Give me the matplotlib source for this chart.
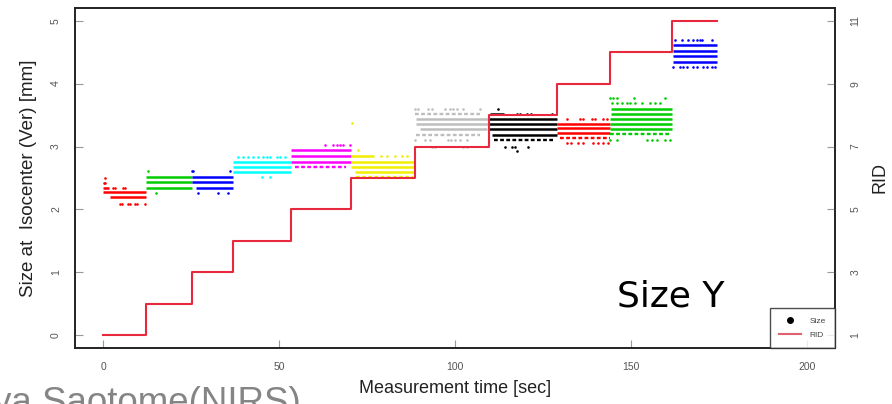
import matplotlib
matplotlib.use('Agg')
import matplotlib.pyplot as plt
from matplotlib.lines import Line2D

#----------------------------------------------------------------------------
# Data
#----------------------------------------------------------------------------

# RID segments: start / end time [sec] and RID value
seg_start = [0.0, 12.2, 25.3, 37.0, 53.4, 70.5, 88.6, 109.7, 129.0, 144.0, 161.7]
seg_end   = [12.2, 25.3, 37.0, 53.4, 70.5, 88.6, 109.7, 129.0, 144.0, 161.7, 174.4]
seg_rid   = [1, 2, 3, 4, 5, 6, 7, 8, 9, 10, 11]

# R default palette, cycled by RID
seg_color = ['red', '#00CD00', 'blue', 'cyan', 'magenta', '#F2EE00',
             '#BEBEBE', 'black', 'red', '#00CD00', 'blue']

# dense rows of size samples: (segment, size [mm], t_from, t_to)
dense_rows = [
    (0, 2.27, 0.0, 12.2), (0, 2.19, 2.0, 12.2), (0, 2.34, 0.0, 1.6),
    (1, 2.51, 12.2, 25.3), (1, 2.43, 12.2, 25.3), (1, 2.34, 12.2, 25.3),
    (2, 2.51, 25.3, 37.0), (2, 2.43, 25.3, 37.0), (2, 2.34, 26.5, 37.0),
    (3, 2.76, 37.0, 53.4), (3, 2.67, 37.0, 53.4), (3, 2.59, 37.0, 53.4),
    (4, 2.94, 53.4, 70.5), (4, 2.85, 53.4, 70.5), (4, 2.76, 53.4, 70.5),
    (5, 2.85, 70.5, 77.0), (5, 2.76, 70.5, 88.6), (5, 2.67, 70.5, 88.6),
    (5, 2.59, 71.5, 88.6),
    (6, 3.44, 89.0, 109.7), (6, 3.36, 89.0, 109.7), (6, 3.28, 90.0, 109.0),
    (7, 3.52, 110.0, 114.0), (7, 3.44, 109.7, 129.0), (7, 3.36, 109.7, 129.0),
    (7, 3.28, 109.7, 129.0), (7, 3.19, 110.5, 129.0),
    (8, 3.36, 129.0, 144.0), (8, 3.29, 129.0, 144.0), (8, 3.21, 129.0, 144.0),
    (9, 3.60, 144.5, 161.7), (9, 3.52, 144.5, 161.7), (9, 3.44, 144.0, 161.7),
    (9, 3.36, 144.0, 161.7), (9, 3.28, 144.0, 161.7),
    (10, 4.61, 162.0, 174.4), (10, 4.52, 162.0, 174.4),
    (10, 4.44, 162.0, 174.4), (10, 4.35, 162.0, 174.4),
]

# patchy rows (gaps between samples)
patchy_rows = [
    (4, 2.67, 54.5, 69.0),
    (5, 2.51, 72.0, 88.0),
    (6, 3.52, 88.6, 107.0), (6, 3.19, 89.0, 107.0),
    (7, 3.11, 111.0, 128.0),
    (8, 3.13, 130.0, 144.0),
    (9, 3.20, 144.0, 161.0),
]

# isolated samples: segment -> [(t, size), ...]
sparse_dots = {
    0: [(0.5, 2.50), (0.3, 2.42), (0.6, 2.42), (2.8, 2.34), (3.4, 2.34),
        (5.7, 2.34), (6.3, 2.34), (4.8, 2.09), (5.4, 2.09), (7.1, 2.09),
        (7.7, 2.09), (9.1, 2.09), (9.7, 2.09), (11.9, 2.09)],
    1: [(12.8, 2.61), (15.0, 2.26)],
    2: [(25.3, 2.61), (25.6, 2.61), (36.1, 2.61), (27.0, 2.26), (32.7, 2.26),
        (35.5, 2.26)],
    3: [(38.4, 2.84), (39.8, 2.84), (41.2, 2.84), (42.6, 2.84), (44.0, 2.84),
        (45.5, 2.84), (46.6, 2.84), (47.4, 2.84), (49.4, 2.84), (50.3, 2.84),
        (51.7, 2.84), (45.2, 2.51), (47.4, 2.51)],
    4: [(63.0, 3.02), (65.3, 3.02), (66.4, 3.02), (67.3, 3.02), (68.2, 3.02),
        (70.2, 3.02)],
    5: [(70.7, 3.37), (72.4, 2.94), (79.0, 2.85), (80.7, 2.85), (83.0, 2.85),
        (85.0, 2.85), (86.4, 2.85)],
    6: [(88.6, 3.60), (89.5, 3.60), (92.3, 3.60), (93.5, 3.60), (97.2, 3.60),
        (98.6, 3.60), (99.4, 3.60), (100.6, 3.60), (102.3, 3.60), (107.1, 3.60),
        (88.6, 3.11), (91.5, 3.11), (92.9, 3.11), (98.0, 3.11), (99.0, 3.11),
        (100.0, 3.11), (101.4, 3.11), (103.4, 3.11),
        (93.5, 3.00), (94.3, 3.00), (102.3, 3.00), (103.4, 3.00)],
    7: [(112.2, 3.60), (117.6, 3.52), (118.5, 3.52), (120.5, 3.52),
        (121.6, 3.52), (127.6, 3.52), (114.2, 3.00), (116.2, 3.00),
        (117.0, 3.00), (120.7, 3.00), (117.6, 2.93)],
    8: [(131.8, 3.44), (135.5, 3.44), (136.4, 3.44), (138.9, 3.44),
        (139.8, 3.44), (142.0, 3.44), (143.2, 3.44),
        (131.8, 3.05), (133.0, 3.05), (135.0, 3.05), (136.4, 3.05),
        (139.2, 3.05), (140.6, 3.05), (142.0, 3.05), (143.5, 3.05)],
    9: [(144.0, 3.77), (145.0, 3.77), (146.0, 3.77), (151.0, 3.77),
        (159.7, 3.77), (144.6, 3.69), (146.0, 3.69), (147.4, 3.69),
        (148.8, 3.69), (149.7, 3.69), (151.1, 3.69), (153.1, 3.69),
        (155.4, 3.69), (156.8, 3.69), (158.2, 3.69),
        (144.0, 3.10), (146.0, 3.10), (154.5, 3.10), (156.0, 3.10),
        (157.4, 3.10), (159.7, 3.10), (161.0, 3.10)],
    10: [(162.5, 4.69), (164.5, 4.69), (166.2, 4.69), (167.6, 4.69),
         (168.8, 4.69), (169.6, 4.69), (170.2, 4.69), (173.0, 4.69),
         (162.0, 4.26), (164.0, 4.26), (164.8, 4.26), (166.0, 4.26),
         (167.6, 4.26), (168.8, 4.26), (170.5, 4.26), (171.6, 4.26),
         (173.0, 4.26), (173.9, 4.26)],
}

x_ticks     = [0, 50, 100, 150, 200]
size_ticks  = [0, 1, 2, 3, 4, 5]
rid_ticks   = [1, 3, 5, 7, 9, 11]

RID_RED = '#e8283c'
TICK_GRAY = '#555555'

plt.rcParams.update({
    'font.family': ['Liberation Sans', 'DejaVu Sans'],
})

#----------------------------------------------------------------------------
# Figure
#----------------------------------------------------------------------------

fig = plt.figure(figsize=(8.92, 4.04), dpi=100)
ax = fig.add_axes([0.084, 0.139, 0.852, 0.841])

# size samples
for seg, y, t0, t1 in dense_rows:
    ax.hlines(y, t0, t1, color=seg_color[seg], linewidth=1.8, zorder=2)
for seg, y, t0, t1 in patchy_rows:
    ax.hlines(y, t0, t1, color=seg_color[seg], linewidth=1.7,
              linestyle=(0, (1.6, 1.0)), zorder=2)
for seg, pts in sparse_dots.items():
    ax.scatter([p[0] for p in pts], [p[1] for p in pts], s=3.5,
               color=seg_color[seg], linewidths=0, zorder=2)

ax.set_xlim(-8, 208)
ax.set_ylim(-0.2, 5.2)
ax.set_xticks(x_ticks)
ax.set_yticks(size_ticks)
ax.set_yticklabels([str(v) for v in size_ticks], rotation=90, va='center')
ax.tick_params(direction='in', length=6, width=0.8, color='#999999',
               labelsize=7.5, labelcolor=TICK_GRAY)
ax.tick_params(axis='x', pad=10)
ax.tick_params(axis='y', pad=10)
for sp in ax.spines.values():
    sp.set_linewidth(1.2)
    sp.set_color('#222222')

ax.set_xlabel('Measurement time [sec]', fontsize=13, color='#222222',
              labelpad=6)
ax.set_ylabel('Size at  Isocenter (Ver) [mm]', fontsize=13.5,
              color='#222222', labelpad=10)

# RID on the right axis
ax2 = ax.twinx()
step_x = seg_start + [seg_end[-1]]
step_y = seg_rid + [seg_rid[-1]]
ax2.step(step_x, step_y, where='post', color=RID_RED, linewidth=1.5,
         zorder=3)
ax2.set_ylim(0.6, 11.4)
ax2.set_yticks(rid_ticks)
ax2.set_yticklabels([str(v) for v in rid_ticks], rotation=90, va='center')
ax2.tick_params(direction='in', length=6, width=0.8, color='#999999',
                labelsize=7.5, labelcolor=TICK_GRAY, pad=11)
for sp in ax2.spines.values():
    sp.set_linewidth(1.2)
    sp.set_color('#222222')
ax2.set_ylabel('RID', fontsize=13, color='#222222', labelpad=8)

handles = [
    Line2D([], [], marker='o', color='black', linestyle='none', markersize=4),
    Line2D([], [], color='#e06070', linewidth=1.5),
]
leg = ax2.legend(handles, ['Size', 'RID'], loc='lower right', fontsize=6,
                 frameon=True, fancybox=False, borderaxespad=0,
                 handlelength=2.6, handletextpad=1.0, labelspacing=0.7,
                 borderpad=1.1, labelcolor='#444444')
leg.get_frame().set_edgecolor('#222222')
leg.get_frame().set_linewidth(1.0)

# slide annotations
ax.text(0.713, 0.15, 'Size Y', transform=ax.transAxes, fontsize=26,
        family='DejaVu Sans', color='black', ha='left', va='center')
fig.text(0.337, -0.022, 'ya Saotome(NIRS)', fontsize=26.5, color='#858585',
         ha='right', va='baseline')

fig.savefig('out.png', dpi=100)
